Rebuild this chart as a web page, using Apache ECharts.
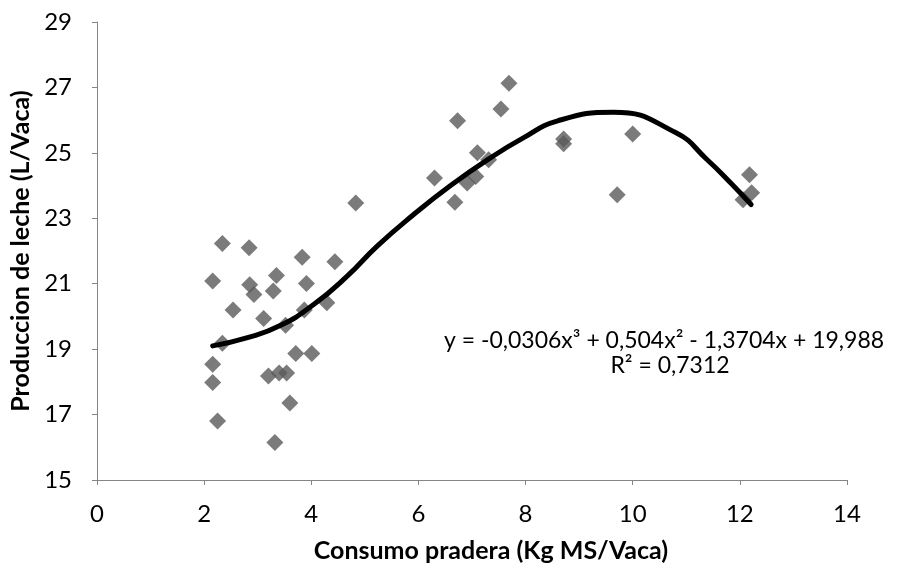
<!DOCTYPE html>
<html><head><meta charset="utf-8">
<script src="https://cdn.jsdelivr.net/npm/echarts@6/dist/echarts.min.js"></script>
<style>html,body{margin:0;padding:0;background:#fff}#c{width:898px;height:569px}</style>
</head><body><div id="c"></div>
<script>
const consumo = [2.34,2.84,3.83,4.44,2.16,2.85,3.35,3.91,2.93,3.29,2.54,3.11,3.87,4.29,3.52,2.34,3.71,4.01,2.16,2.16,3.20,3.40,3.54,3.60,2.25,3.32,
  7.69,7.54,6.73,7.10,7.31,7.07,6.91,6.30,6.68,4.83,8.71,8.71,10.0,9.71,12.18,12.22,12.06];
const produccion = [22.23,22.10,21.81,21.67,21.08,20.97,21.25,21.01,20.67,20.78,20.20,19.94,20.20,20.42,19.73,19.18,18.87,18.87,18.54,17.98,18.18,18.27,18.27,17.35,16.80,16.15,
  27.13,26.34,25.98,25.00,24.79,24.28,24.08,24.23,23.49,23.47,25.42,25.28,25.58,23.72,24.33,23.78,23.57];
// trend line
const trendX = [2.16,2.81,3.43,4.05,4.67,5.23,5.90,6.60,7.30,7.95,8.60,9.64,10.80,11.39,11.83,12.21];
const trendY = [19.10,19.35,19.73,20.37,21.23,22.15,23.10,24.00,24.80,25.45,25.98,26.24,25.62,24.79,24.08,23.42];
const equation = 'y = -0,0306x³ + 0,504x² - 1,3704x + 19,988';
const r2 = 'R² = 0,7312';
const xTitle = 'Consumo pradera (Kg MS/Vaca)';
const yTitle = 'Produccion de leche (L/Vaca)';

const pts = consumo.map((x,i)=>[x, produccion[i]]);
const trend = trendX.map((x,i)=>[x, trendY[i]]);
const font = "Lato, sans-serif";
const FS = 24;
const axisCommon = {
  axisLine:{show:true,onZero:false,lineStyle:{color:'#868686',width:1}},
  axisTick:{show:true,length:5,lineStyle:{color:'#868686'}},
  splitLine:{show:false},
  axisLabel:{color:'#000',fontSize:FS,fontFamily:font},
  nameTextStyle:{color:'#000',fontSize:25,fontWeight:'bold',fontFamily:font}
};
const chart = echarts.init(document.getElementById('c'));
chart.setOption({
  animation:false,
  grid:{left:97,right:51,top:22,bottom:89,containLabel:false,outerBoundsMode:'none'},
  xAxis:Object.assign({},axisCommon,{type:'value',min:0,max:14,interval:2,
    axisLabel:Object.assign({},axisCommon.axisLabel,{margin:22})}),
  yAxis:Object.assign({},axisCommon,{type:'value',min:15,max:29,interval:2,
    name:yTitle,nameLocation:'middle',nameGap:50,
    axisLabel:Object.assign({},axisCommon.axisLabel,{margin:25})}),
  series:[
    {type:'scatter',data:pts,symbol:'diamond',symbolSize:[17,17],itemStyle:{color:'#5a5a5a'},z:2},
    {type:'line',data:trend,showSymbol:false,smooth:0.5,lineStyle:{color:'#000',width:5,cap:'round'},z:3}
  ],
  graphic:[
    {type:'text',x:491,y:551,style:{text:xTitle,align:'center',verticalAlign:'middle',fontSize:25,fontWeight:'bold',fontFamily:font,fill:'#000'}},
    {type:'text',x:664,y:341,style:{text:equation,align:'center',verticalAlign:'middle',fontSize:23,fontFamily:font,fill:'#000'}},
    {type:'text',x:670,y:366,style:{text:r2,align:'center',verticalAlign:'middle',fontSize:23,fontFamily:font,fill:'#000'}}
  ]
});
</script></body></html>
